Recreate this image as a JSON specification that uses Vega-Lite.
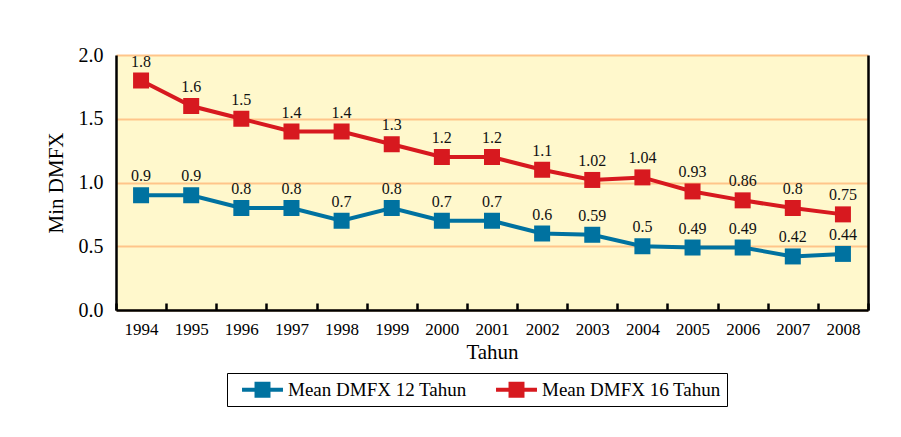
{
  "$schema": "https://vega.github.io/schema/vega-lite/v6.json",
  "width": 752,
  "height": 255,
  "autosize": {"type": "none"},
  "padding": {"left": 116, "top": 55, "right": 33, "bottom": 127},
  "background": "white",
  "config": {
    "font": "Liberation Serif",
    "view": {"stroke": null, "fill": "#FFF8CC"}
  },
  "data": {
    "values": [
      {"year": "1994", "series": "Mean DMFX 12 Tahun", "v": 0.9},
      {"year": "1995", "series": "Mean DMFX 12 Tahun", "v": 0.9},
      {"year": "1996", "series": "Mean DMFX 12 Tahun", "v": 0.8},
      {"year": "1997", "series": "Mean DMFX 12 Tahun", "v": 0.8},
      {"year": "1998", "series": "Mean DMFX 12 Tahun", "v": 0.7},
      {"year": "1999", "series": "Mean DMFX 12 Tahun", "v": 0.8},
      {"year": "2000", "series": "Mean DMFX 12 Tahun", "v": 0.7},
      {"year": "2001", "series": "Mean DMFX 12 Tahun", "v": 0.7},
      {"year": "2002", "series": "Mean DMFX 12 Tahun", "v": 0.6},
      {"year": "2003", "series": "Mean DMFX 12 Tahun", "v": 0.59},
      {"year": "2004", "series": "Mean DMFX 12 Tahun", "v": 0.5},
      {"year": "2005", "series": "Mean DMFX 12 Tahun", "v": 0.49},
      {"year": "2006", "series": "Mean DMFX 12 Tahun", "v": 0.49},
      {"year": "2007", "series": "Mean DMFX 12 Tahun", "v": 0.42},
      {"year": "2008", "series": "Mean DMFX 12 Tahun", "v": 0.44},
      {"year": "1994", "series": "Mean DMFX 16 Tahun", "v": 1.8},
      {"year": "1995", "series": "Mean DMFX 16 Tahun", "v": 1.6},
      {"year": "1996", "series": "Mean DMFX 16 Tahun", "v": 1.5},
      {"year": "1997", "series": "Mean DMFX 16 Tahun", "v": 1.4},
      {"year": "1998", "series": "Mean DMFX 16 Tahun", "v": 1.4},
      {"year": "1999", "series": "Mean DMFX 16 Tahun", "v": 1.3},
      {"year": "2000", "series": "Mean DMFX 16 Tahun", "v": 1.2},
      {"year": "2001", "series": "Mean DMFX 16 Tahun", "v": 1.2},
      {"year": "2002", "series": "Mean DMFX 16 Tahun", "v": 1.1},
      {"year": "2003", "series": "Mean DMFX 16 Tahun", "v": 1.02},
      {"year": "2004", "series": "Mean DMFX 16 Tahun", "v": 1.04},
      {"year": "2005", "series": "Mean DMFX 16 Tahun", "v": 0.93},
      {"year": "2006", "series": "Mean DMFX 16 Tahun", "v": 0.86},
      {"year": "2007", "series": "Mean DMFX 16 Tahun", "v": 0.8},
      {"year": "2008", "series": "Mean DMFX 16 Tahun", "v": 0.75}
    ]
  },
  "encoding": {
    "x": {
      "field": "year", "type": "ordinal",
      "scale": {"paddingInner": 0, "paddingOuter": 0},
      "axis": {
        "title": "Tahun", "titleFontSize": 21, "titleFontWeight": "normal", "titleColor": "black", "titlePadding": 4,
        "labelAngle": 0, "labelFontSize": 17, "labelColor": "black", "labelPadding": 18,
        "domainColor": "black", "domainWidth": 2.5,
        "tickBand": "extent", "tickSize": -7, "tickColor": "black", "tickWidth": 2.5,
        "grid": false
      }
    },
    "y": {
      "field": "v", "type": "quantitative",
      "scale": {"domain": [0, 2]}
    },
    "color": {
      "field": "series", "type": "nominal",
      "scale": {"domain": ["Mean DMFX 12 Tahun", "Mean DMFX 16 Tahun"], "range": ["#0072A0", "#D7191F"]},
      "legend": {
        "title": null, "orient": "none", "legendX": 111, "legendY": 318,
        "direction": "horizontal", "columns": 2,
        "symbolType": "M-0.14,-0.2H3.76V0.2H-0.14Z M1.05,-0.76H2.57V0.76H1.05Z",
        "symbolSize": 441, "symbolStrokeWidth": 0, "symbolOpacity": 1,
        "labelFontSize": 19, "labelColor": "black", "labelOffset": 34, "labelLimit": 300,
        "columnPadding": 20,
        "strokeColor": "black", "padding": 6
      }
    }
  },
  "layer": [
    {
      "mark": {"type": "line", "strokeWidth": 4},
      "encoding": {
        "y": {
          "field": "v", "type": "quantitative",
          "axis": {
            "title": "Min DMFX", "titleFontSize": 21, "titleFontWeight": "normal", "titleColor": "black", "titlePadding": 12,
            "values": [0, 0.5, 1, 1.5, 2], "format": ".1f",
            "labelFontSize": 20, "labelColor": "black", "labelPadding": 13,
            "ticks": false, "domainColor": "black", "domainWidth": 2.5,
            "gridColor": "#FFC58A", "gridWidth": 2, "gridOpacity": 1
          }
        }
      }
    },
    {
      "mark": {"type": "point", "shape": "square", "filled": true, "opacity": 1, "size": 256},
      "encoding": {
        "y": {
          "field": "v", "type": "quantitative",
          "axis": {"orient": "right", "labels": false, "ticks": false, "title": null, "grid": false, "domainColor": "black", "domainWidth": 2.5}
        }
      }
    },
    {
      "mark": {"type": "text", "dy": -19, "fontSize": 16},
      "encoding": {
        "y": {"field": "v", "type": "quantitative", "axis": null},
        "text": {"field": "v", "type": "quantitative"},
        "color": {"value": "#111"}
      }
    }
  ],
  "resolve": {"axis": {"y": "independent"}}
}
